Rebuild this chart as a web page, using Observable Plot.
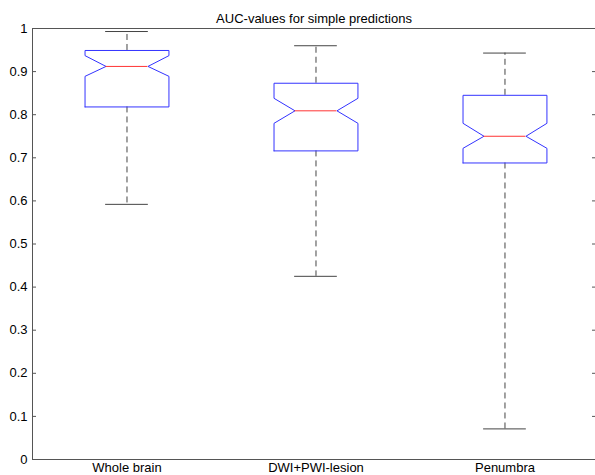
<!DOCTYPE html>
<html>
<head>
<meta charset="utf-8">
<script src="https://cdn.jsdelivr.net/npm/d3@7"></script>
<script src="https://cdn.jsdelivr.net/npm/@observablehq/plot@0.6"></script>
<style>
  html, body { margin: 0; padding: 0; background: #fff; }
  svg { font-family: "Liberation Sans", Arial, sans-serif; }
  svg text { font-size: 13px; }
</style>
</head>
<body>
<div id="chart"></div>
<script>
const title = "AUC-values for simple predictions";
const categories = ["Whole brain", "DWI+PWI-lesion", "Penumbra"];
const upperWhisker = [0.993, 0.960, 0.943];
const q3 = [0.949, 0.873, 0.845];
const notchHigh = [0.937, 0.838, 0.780];
const median = [0.912, 0.809, 0.750];
const notchLow = [0.889, 0.780, 0.722];
const q1 = [0.818, 0.716, 0.688];
const lowerWhisker = [0.592, 0.425, 0.071];
const yTicks = [0, 0.1, 0.2, 0.3, 0.4, 0.5, 0.6, 0.7, 0.8, 0.9, 1];
const yTickLabels = ["0", "0.1", "0.2", "0.3", "0.4", "0.5", "0.6", "0.7", "0.8", "0.9", "1"];

// box geometry in x-data units (category spacing = 1)
const boxHalf = 0.222;
const notchHalf = 0.111;
const capHalf = 0.113;

const stats = categories.map((c, i) => ({
  cat: c, x: i + 1,
  hi: upperWhisker[i], q3: q3[i], nh: notchHigh[i], med: median[i],
  nl: notchLow[i], q1: q1[i], lo: lowerWhisker[i]
}));

const outline = stats.flatMap(s => [
  {cat: s.cat, x: s.x - boxHalf, y: s.q1},
  {cat: s.cat, x: s.x + boxHalf, y: s.q1},
  {cat: s.cat, x: s.x + boxHalf, y: s.nl},
  {cat: s.cat, x: s.x + notchHalf, y: s.med},
  {cat: s.cat, x: s.x + boxHalf, y: s.nh},
  {cat: s.cat, x: s.x + boxHalf, y: s.q3},
  {cat: s.cat, x: s.x - boxHalf, y: s.q3},
  {cat: s.cat, x: s.x - boxHalf, y: s.nh},
  {cat: s.cat, x: s.x - notchHalf, y: s.med},
  {cat: s.cat, x: s.x - boxHalf, y: s.nl},
  {cat: s.cat, x: s.x - boxHalf, y: s.q1}
]);

const whiskers = stats.flatMap(s => [
  {x: s.x, y1: s.q3, y2: s.hi},
  {x: s.x, y1: s.q1, y2: s.lo}
]);
const caps = stats.flatMap(s => [
  {x1: s.x - capHalf, x2: s.x + capHalf, y: s.hi},
  {x1: s.x - capHalf, x2: s.x + capHalf, y: s.lo}
]);

const axisColor = "#555";

const chart = Plot.plot({
  width: 595,
  height: 475,
  marginLeft: 32,
  marginRight: 0,
  marginTop: 28,
  marginBottom: 16,
  style: {fontFamily: "Liberation Sans, Arial, sans-serif", fontSize: "13px", background: "#fff"},
  x: {type: "linear", domain: [0.5, 3.479]},
  y: {domain: [0, 1]},
  marks: [
    Plot.axisY({ticks: yTicks, tickFormat: d => yTickLabels[yTicks.indexOf(d)], tickSize: -4, tickPadding: 9, stroke: axisColor, fill: "#000", fontSize: 13}),
    Plot.axisY({anchor: "right", ticks: yTicks, tickFormat: () => "", tickSize: -4, stroke: axisColor}),
    Plot.axisX({ticks: [1, 2, 3], tickFormat: d => categories[d - 1], tickSize: 0, tickPadding: 3, fill: "#000", fontSize: 13}),
    Plot.ruleY([0, 1], {stroke: axisColor}),
    Plot.ruleX([0.5], {stroke: axisColor}),
    Plot.ruleX(whiskers, {x: "x", y1: "y1", y2: "y2", stroke: "#444", strokeDasharray: "6,4"}),
    Plot.ruleY(caps, {x1: "x1", x2: "x2", y: "y", stroke: "#444"}),
    Plot.line(outline, {x: "x", y: "y", z: "cat", stroke: "#3333ff", strokeWidth: 1}),
    Plot.ruleY(stats, {x1: d => d.x - notchHalf, x2: d => d.x + notchHalf, y: "med", stroke: "#ff3333"}),
    Plot.text([title], {frameAnchor: "top", dy: -15, text: d => d, fontSize: 13, fill: "#000"})
  ]
});
document.getElementById("chart").append(chart);
</script>
</body>
</html>
